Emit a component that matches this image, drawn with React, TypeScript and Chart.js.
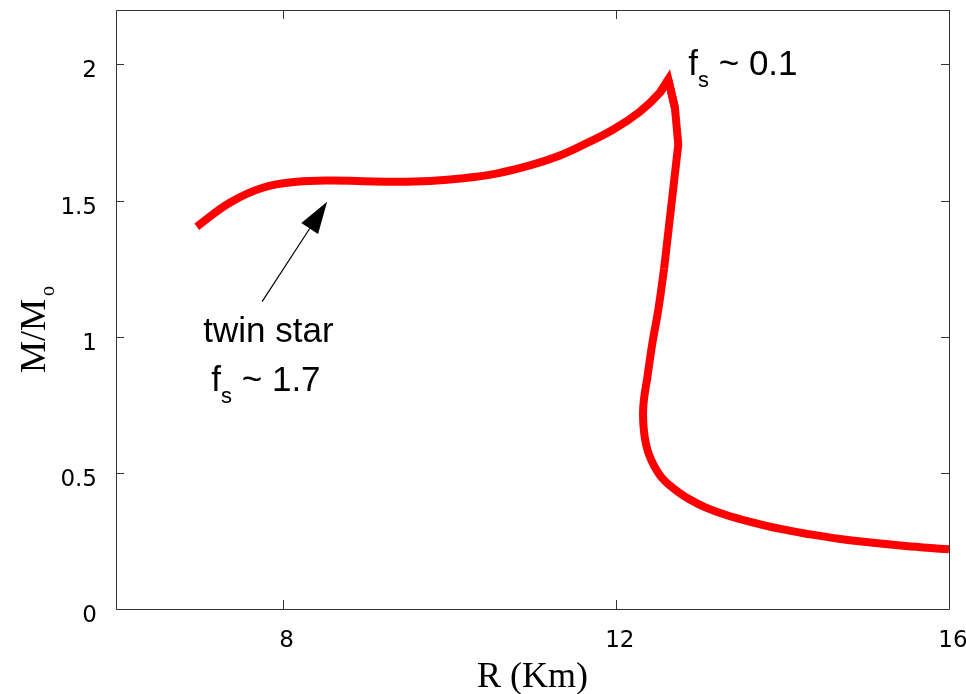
import React, { useEffect, useRef } from "react";
import { Chart, registerables } from "chart.js";

Chart.register(...registerables);

// Rising branch (hadronic -> twin star plateau -> maximum)
const risingR = [6.97, 7.37, 7.77, 8.17, 8.57, 8.97, 9.38, 9.77, 10.17, 10.58, 10.98, 11.28, 11.57, 11.97, 12.29, 12.53, 12.63];
const risingM = [1.404, 1.493, 1.548, 1.569, 1.574, 1.571, 1.569, 1.572, 1.582, 1.600, 1.630, 1.660, 1.699, 1.761, 1.827, 1.897, 1.945];
// sharp cusp at the maximum
const peakR = [12.53, 12.63, 12.71];
const peakM = [1.897, 1.945, 1.84];
// drop after the cusp (two kinks)
const dropR = [12.63, 12.71, 12.75, 12.58];
const dropM = [1.945, 1.84, 1.706, 1.25];
// lower branch down to low mass
const lowerR = [12.58, 12.51, 12.44, 12.38, 12.33, 12.34, 12.40, 12.535, 12.715, 12.895, 13.075, 13.315, 13.616, 13.976, 14.336, 14.697, 15.057, 15.417, 15.778, 16.0];
const lowerM = [1.25, 1.099, 0.978, 0.853, 0.743, 0.647, 0.566, 0.489, 0.4375, 0.401, 0.373, 0.346, 0.320, 0.294, 0.274, 0.257, 0.244, 0.233, 0.224, 0.219];

const xTicks = [8, 12, 16];
const yTicks = [0, 0.5, 1, 1.5, 2];

const xTitle = "R (Km)";
const yTitleMain = "M/M";
const yTitleSub = "o";
const peakLabel = { main: "f", sub: "s", rest: " ~ 0.1", r: 12.87, m: 1.96 };
const twinLine1 = { text: "twin star", r: 7.83, m: 0.98 };
const twinLine2 = { main: "f", sub: "s", rest: " ~ 1.7", r: 7.80, m: 0.80 };
const arrowTail = [7.754, 1.129];
const arrowTip = [8.535, 1.496];

const RED = "#ff0000";

function zip(xs: number[], ys: number[]) {
  return xs.map((x, i) => ({ x, y: ys[i] }));
}

const framePlugin = {
  id: "frameTicks",
  beforeDatasetsDraw(chart: any) {
    const { ctx, chartArea } = chart;
    const { left, right, top, bottom } = chartArea;
    const xs = chart.scales.x;
    const ys = chart.scales.y;
    ctx.save();
    ctx.strokeStyle = "#333";
    ctx.lineWidth = 1;
    ctx.beginPath();
    ctx.rect(Math.round(left) + 0.5, Math.round(top) + 0.5, Math.round(right - left), Math.round(bottom - top));
    ctx.stroke();
    ctx.beginPath();
    for (const v of xTicks) {
      const px = Math.round(xs.getPixelForValue(v)) + 0.5;
      ctx.moveTo(px, bottom);
      ctx.lineTo(px, bottom - 9);
      ctx.moveTo(px, top);
      ctx.lineTo(px, top + 9);
    }
    for (const v of yTicks) {
      const py = Math.round(ys.getPixelForValue(v)) + 0.5;
      ctx.moveTo(left, py);
      ctx.lineTo(left + 8, py);
      ctx.moveTo(right, py);
      ctx.lineTo(right - 8, py);
    }
    ctx.stroke();
    ctx.restore();
  },
  afterDatasetsDraw(chart: any) {
    const { ctx, chartArea } = chart;
    const xs = chart.scales.x;
    const ys = chart.scales.y;
    const X = (v: number) => xs.getPixelForValue(v);
    const Y = (v: number) => ys.getPixelForValue(v);
    ctx.save();
    ctx.fillStyle = "#000";
    ctx.strokeStyle = "#000";

    // axis titles (serif)
    ctx.font = "36px 'Liberation Serif', 'Times New Roman', serif";
    ctx.textAlign = "center";
    ctx.textBaseline = "alphabetic";
    ctx.fillText(xTitle, (chartArea.left + chartArea.right) / 2, chartArea.bottom + 78);

    ctx.save();
    ctx.translate(45, 373);
    ctx.rotate(-Math.PI / 2);
    ctx.textAlign = "left";
    ctx.font = "36px 'Liberation Serif', 'Times New Roman', serif";
    ctx.fillText(yTitleMain, 0, 0);
    const wM = ctx.measureText(yTitleMain).width;
    ctx.font = "20px 'Liberation Serif', 'Times New Roman', serif";
    ctx.fillText(yTitleSub, wM + 3, 9);
    ctx.restore();

    // annotations (sans)
    const mainFont = "35px 'Liberation Sans', Arial, sans-serif";
    const subFont = "22px 'Liberation Sans', Arial, sans-serif";
    const drawFs = (lab: any, x0: number, y0: number, center: boolean) => {
      ctx.font = mainFont;
      const wf = ctx.measureText(lab.main).width;
      const wr = ctx.measureText(lab.rest).width;
      ctx.font = subFont;
      const ws = ctx.measureText(lab.sub).width;
      let x = center ? x0 - (wf + ws + wr) / 2 : x0;
      ctx.textAlign = "left";
      ctx.font = mainFont;
      ctx.fillText(lab.main, x, y0);
      x += wf;
      ctx.font = subFont;
      ctx.fillText(lab.sub, x, y0 + 12);
      x += ws;
      ctx.font = mainFont;
      ctx.fillText(lab.rest, x, y0);
    };
    drawFs(peakLabel, X(peakLabel.r), Y(peakLabel.m), false);
    ctx.font = mainFont;
    ctx.textAlign = "center";
    ctx.fillText(twinLine1.text, X(twinLine1.r), Y(twinLine1.m));
    drawFs(twinLine2, X(twinLine2.r), Y(twinLine2.m), true);

    // arrow
    const tx = X(arrowTail[0]), ty = Y(arrowTail[1]);
    const hx = X(arrowTip[0]), hy = Y(arrowTip[1]);
    const dx = hx - tx, dy = hy - ty;
    const len = Math.sqrt(dx * dx + dy * dy);
    const ux = dx / len, uy = dy / len;
    const headLen = 32, halfW = 10;
    const bx = hx - ux * headLen, by = hy - uy * headLen;
    ctx.lineWidth = 1.2;
    ctx.beginPath();
    ctx.moveTo(tx, ty);
    ctx.lineTo(bx, by);
    ctx.stroke();
    ctx.beginPath();
    ctx.moveTo(hx, hy);
    ctx.lineTo(bx - uy * halfW, by + ux * halfW);
    ctx.lineTo(bx + uy * halfW, by - ux * halfW);
    ctx.closePath();
    ctx.fill();
    ctx.restore();
  },
};

const zeroPad = (axis: any) => {
  axis.paddingTop = 0;
  axis.paddingBottom = 0;
  axis.paddingLeft = 0;
  axis.paddingRight = 0;
};

export default function App() {
  const ref = useRef<HTMLCanvasElement | null>(null);
  useEffect(() => {
    document.body.style.margin = "0";
    const canvas = ref.current!;
    const common = {
      borderColor: RED,
      borderWidth: 8,
      pointRadius: 0,
      showLine: true,
      fill: false,
    };
    const chart = new Chart(canvas, {
      type: "scatter",
      data: {
        datasets: [
          { ...common, data: zip(risingR, risingM), tension: 0.4, borderCapStyle: "butt" },
          { ...common, data: zip(peakR, peakM), tension: 0, borderJoinStyle: "miter" },
          { ...common, data: zip(dropR, dropM), tension: 0, borderJoinStyle: "miter" },
          { ...common, data: zip(lowerR, lowerM), tension: 0.4, borderCapStyle: "butt" },
        ] as any,
      },
      options: {
        animation: false,
        responsive: false,
        layout: { padding: { top: 10, right: 17, left: 0, bottom: 0 } },
        plugins: { legend: { display: false }, tooltip: { enabled: false } },
        scales: {
          x: {
            type: "linear",
            min: 6,
            max: 16,
            grid: { display: false },
            border: { display: false },
            afterBuildTicks: (axis: any) => {
              axis.ticks = xTicks.map((v) => ({ value: v }));
            },
            afterFit: (axis: any) => {
              axis.height = 85;
              zeroPad(axis);
            },
            ticks: {
              color: "#000",
              font: { family: "'DejaVu Sans', sans-serif", size: 23 },
              padding: 10,
              labelOffset: 4,
              maxRotation: 0,
              autoSkip: false,
              callback: (v: any) => String(v),
            },
          },
          y: {
            type: "linear",
            min: 0,
            max: 2.2,
            grid: { display: false },
            border: { display: false },
            afterBuildTicks: (axis: any) => {
              axis.ticks = yTicks.map((v) => ({ value: v }));
            },
            afterFit: (axis: any) => {
              axis.width = 116;
              zeroPad(axis);
            },
            ticks: {
              color: "#000",
              font: { family: "'DejaVu Sans', sans-serif", size: 23 },
              padding: 11,
              labelOffset: 7,
              autoSkip: false,
              callback: (v: any) => String(v),
            },
          },
        },
      } as any,
      plugins: [framePlugin],
    });
    return () => chart.destroy();
  }, []);
  return (
    <div style={{ position: "fixed", left: 0, top: 0, width: 966, height: 694, background: "#fff" }}>
      <canvas ref={ref} width={966} height={694} style={{ display: "block" }} />
    </div>
  );
}
